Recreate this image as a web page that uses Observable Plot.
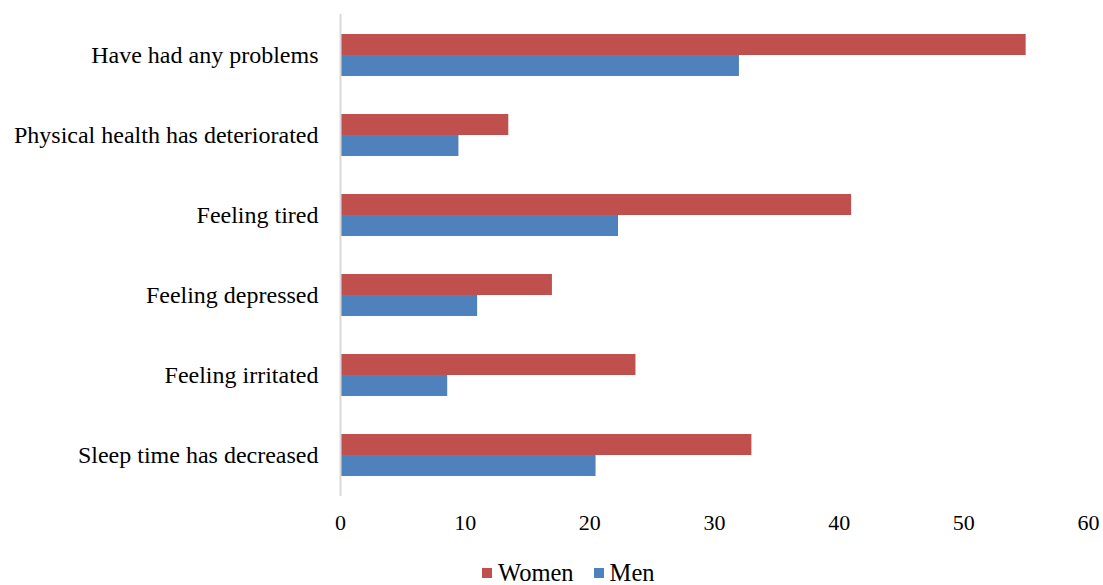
<!DOCTYPE html>
<html>
<head>
<meta charset="utf-8">
<script src="https://cdn.jsdelivr.net/npm/d3@7"></script>
<script src="https://cdn.jsdelivr.net/npm/@observablehq/plot@0.6"></script>
<style>
  body { margin: 0; background: #fff; font-family: "Liberation Serif", "Times New Roman", serif; }
  #legend { display: flex; align-items: center; height: 26px; padding-top: 10px; padding-left: 482px; font-size: 24.5px; line-height: 1; color: #000; }
  #legend .sw { width: 10px; height: 10px; display: inline-block; margin-right: 6px; }
  #legend .item { display: flex; align-items: center; margin-right: 20px; }
</style>
</head>
<body>
<div id="chart"></div>
<div id="legend"></div>
<script>
// Share of respondents reporting each problem, by sex (%)
const categories = [
  "Have had any problems",
  "Physical health has deteriorated",
  "Feeling tired",
  "Feeling depressed",
  "Feeling irritated",
  "Sleep time has decreased"
];
const women = [55, 13.5, 41, 17, 23.7, 33];
const men = [32, 9.5, 22.3, 11, 8.6, 20.5];
const series = ["Women", "Men"];
const colors = ["#C0504D", "#4F81BD"];
const xTicks = [0, 10, 20, 30, 40, 50, 60];

const womenRows = categories.map((c, i) => ({category: c, value: women[i]}));
const menRows = categories.map((c, i) => ({category: c, value: men[i]}));

const chart = Plot.plot({
  width: 1103,
  height: 550,
  marginLeft: 340,
  marginRight: 15,
  marginTop: 15,
  marginBottom: 55,
  style: {fontFamily: "'Liberation Serif', 'Times New Roman', serif", fontSize: "24px", color: "#000", background: "#fff"},
  x: {domain: [0, 60], label: null},
  y: {domain: categories, padding: 0, label: null},
  marks: [
    Plot.barX(womenRows, {x: "value", y: "category", fill: colors[0], insetTop: 19, insetBottom: 40}),
    Plot.barX(menRows, {x: "value", y: "category", fill: colors[1], insetTop: 40, insetBottom: 19}),
    Plot.ruleX([0], {stroke: "#d9d9d9", strokeWidth: 2, insetTop: -1, insetBottom: -1}),
    Plot.axisX({ticks: xTicks, tickSize: 0, tickPadding: 19, fontSize: 22, tickFormat: d => String(d), label: null}),
    Plot.axisY({tickSize: 0, tickPadding: 22, fontSize: 24, label: null})
  ]
});
document.getElementById("chart").appendChild(chart);

const legend = document.getElementById("legend");
series.forEach((s, i) => {
  const item = document.createElement("span");
  item.className = "item";
  const sw = document.createElement("span");
  sw.className = "sw";
  sw.style.background = colors[i];
  item.appendChild(sw);
  item.appendChild(document.createTextNode(s));
  legend.appendChild(item);
});
</script>
</body>
</html>
